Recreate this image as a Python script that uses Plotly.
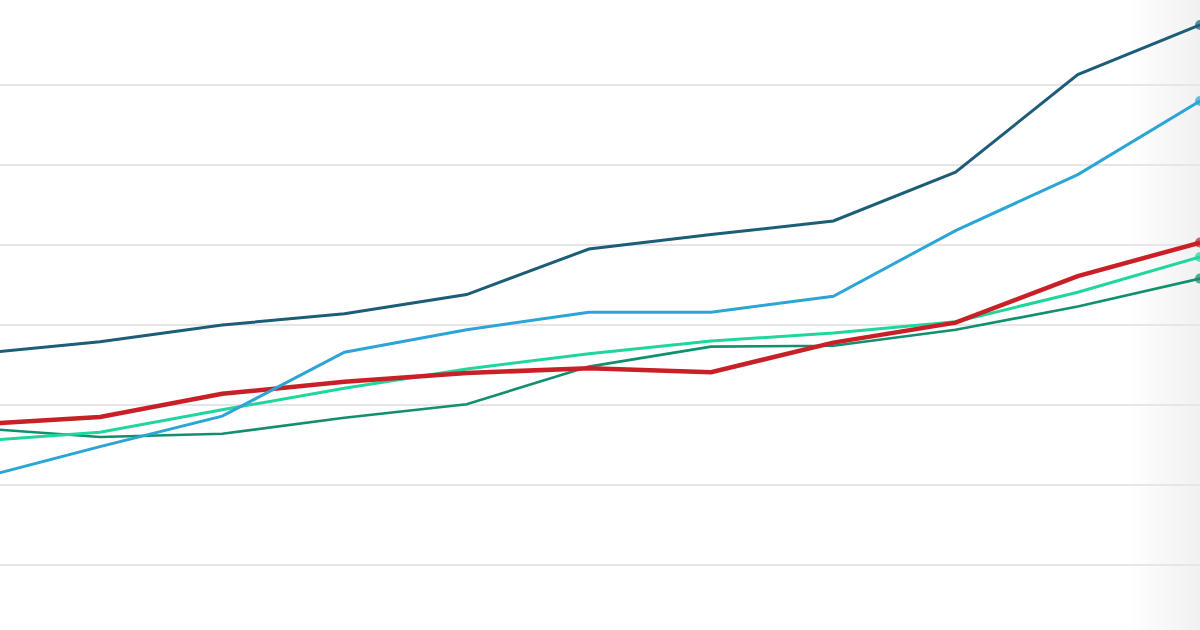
import plotly.graph_objects as go

# Data (first point lies just left of the visible area)
periods = list(range(11))
dark_blue = [26.4, 27.9, 30.0, 31.4, 33.8, 39.5, 41.3, 43.0, 49.1, 61.3, 67.5]
light_blue = [10.8, 14.8, 18.6, 26.6, 29.4, 31.6, 31.6, 33.6, 41.8, 48.8, 58.0]
red = [17.6, 18.5, 21.4, 22.9, 24.0, 24.6, 24.1, 27.8, 30.3, 36.1, 40.3]
mint = [15.5, 16.6, 19.4, 22.1, 24.5, 26.4, 28.0, 29.0, 30.4, 34.1, 38.5]
dark_green = [17.1, 16.0, 16.4, 18.4, 20.1, 24.8, 27.3, 27.4, 29.4, 32.3, 35.8]
grid_vals = [0, 10, 20, 30, 40, 50, 60]

series = [
    ("Dark green", dark_green, "#118f6f", 2.6),
    ("Mint", mint, "#1fd69c", 3),
    ("Red", red, "#c92027", 4.5),
    ("Light blue", light_blue, "#2ba5d5", 3),
    ("Dark blue", dark_blue, "#1c5d78", 3),
]

fig = go.Figure()
for name, vals, color, width in series:
    sizes = [0] * (len(vals) - 1) + [10]
    fig.add_trace(go.Scatter(
        x=periods, y=vals, name=name, mode="lines+markers",
        line=dict(color=color, width=width),
        marker=dict(size=sizes, color=color, line=dict(width=0)),
        cliponaxis=False,
        showlegend=False, hoverinfo="skip",
    ))

# subtle fade on the right edge
steps = 14
for i in range(steps):
    x0 = 1130 / 1200 + i * (70 / 1200) / steps
    fig.add_shape(type="rect", xref="paper", yref="paper",
                  x0=x0, x1=1, y0=0, y1=1,
                  fillcolor="#e8e8e8", opacity=0.022, line=dict(width=0),
                  layer="below")

fig.update_layout(
    width=1200, height=630,
    margin=dict(l=0, r=0, t=0, b=0),
    paper_bgcolor="white", plot_bgcolor="white",
    xaxis=dict(range=[0.182, 10], showgrid=False, zeroline=False,
               showticklabels=False, showline=False, ticks=""),
    yaxis=dict(range=[-8.125, 70.625], tickvals=grid_vals, showgrid=True,
               gridcolor="#e6e6e6", gridwidth=2, zeroline=False,
               showticklabels=False, showline=False, ticks=""),
)

fig.write_html(
    "out.html",
    config={"displayModeBar": False},
    post_script="document.body.style.margin='0px';document.body.style.overflow='hidden';",
)
